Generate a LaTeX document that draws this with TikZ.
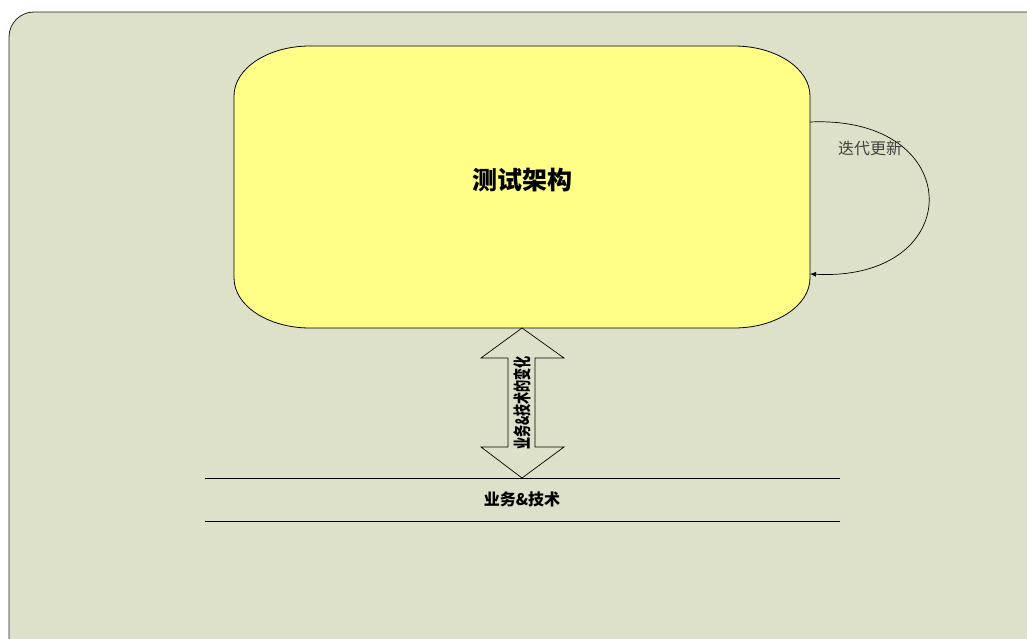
\documentclass[tikz,border=0pt]{standalone}
\usepackage{fontspec}
\setmainfont{Noto Sans CJK SC}
\usetikzlibrary{arrows.meta}
\definecolor{sheet}{RGB}{221,225,202}
\definecolor{archyellow}{RGB}{255,255,136}
\tikzset{
  thinline/.style={line width=0.7pt, black},
  looptext/.style={font=\fontsize{16}{16}\selectfont, text=black!75},
  boldtext/.style={font=\bfseries\fontsize{#1}{#1}\selectfont},
}

\begin{document}
\begin{tikzpicture}[x=1pt, y=-1pt]
		\useasboundingbox (0,0) rectangle (1027,639);
		\clip (0,0) rectangle (1027,639);
		% background sheet
		\fill[sheet, draw=black!85, line width=0.8pt, rounded corners=25pt] (9,12) rectangle (1070,690);
		% test architecture block
		\filldraw[archyellow, draw=black, line width=0.8pt]
			(310,46) -- (734,46) .. controls (776,46) and (810,68.4) .. (810,96)
			-- (810,278) .. controls (810,305.6) and (776,328) .. (734,328)
			-- (310,328) .. controls (268,328) and (234,305.6) .. (234,278)
			-- (234,96) .. controls (234,68.4) and (268,46) .. (310,46) -- cycle;
		\node[boldtext=25] (arch) at (522,180) {测试架构};
		% iteration loop
		\coordinate (loopout) at (810,122);
		\coordinate (loopin) at (810,274);
		\draw[thinline, -{Latex[length=6pt, width=5pt]}] (loopout) .. controls (968,115) and (968,282) .. (loopin);
		\node[looptext] (update) at (870,148) {迭代更新};
		% change arrow
		\coordinate (uptip) at (522,328);
		\coordinate (downtip) at (522,478);
		\draw[thinline, fill=sheet] (uptip) -- (564,358) -- (535,358) -- (535,447) -- (564,447)
			-- (downtip) -- (481,447) -- (508,447) -- (508,358) -- (481,358) -- cycle;
		\node[boldtext=18, rotate=90, xscale=0.67] (change) at (522,403) {业务\&技术的变化};
		% business and technology band
		\draw[thinline] (205,478) -- (840,478);
		\draw[thinline] (205,521) -- (840,521);
		\node[boldtext=16] (base) at (522,499) {业务\&技术};
\end{tikzpicture}
\end{document}
